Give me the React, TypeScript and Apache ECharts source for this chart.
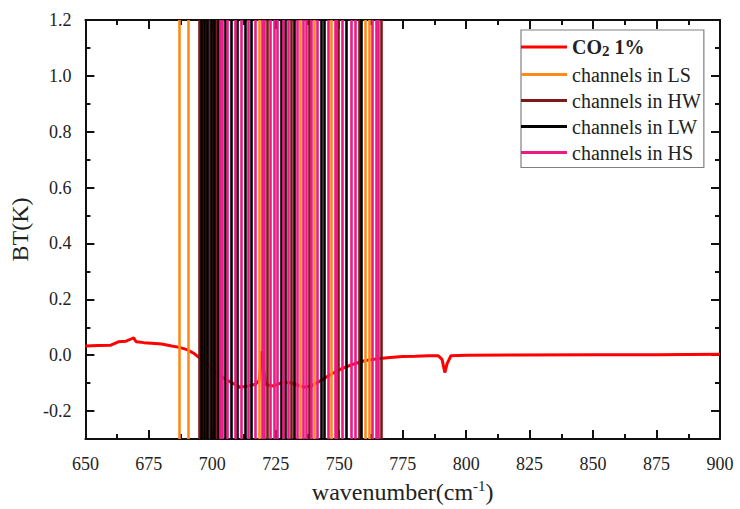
import React, { useEffect, useRef } from "react";
import * as echarts from "echarts";

// CO2 1% brightness-temperature difference (wavenumber, K)
const co2Wavenumber = [
  650, 655, 660, 663, 666, 668, 669, 670, 673, 676, 680, 684, 687, 690, 693, 696, 699, 702, 705, 708,
  711, 714, 717, 718.5, 719.5, 720.2, 721, 724, 727, 730, 733, 736, 739, 742, 745, 748, 751, 754, 757,
  760, 763, 766, 770, 775, 780, 785, 789, 790.5, 791.6, 792.5, 794, 800, 820, 850, 875, 900,
];
const co2Values = [
  0.033, 0.035, 0.036, 0.048, 0.05, 0.058, 0.062, 0.048, 0.045, 0.043, 0.04, 0.033, 0.028, 0.02, 0.005,
  -0.018, -0.04, -0.065, -0.085, -0.1, -0.115, -0.11, -0.104, -0.09, 0.015, -0.05, -0.105, -0.11, -0.1,
  -0.097, -0.105, -0.115, -0.11, -0.095, -0.078, -0.062, -0.048, -0.037, -0.028, -0.02, -0.015, -0.012,
  -0.008, -0.005, -0.004, -0.002, -0.002, -0.015, -0.062, -0.03, -0.002, 0.0, 0.001, 0.002, 0.002, 0.003,
];

// channel positions (wavenumber) per group
const channelsLS = [687.0, 690.7, 718.5, 734.6, 740.0, 746.8, 760.2, 761.8];
const channelsHW = [695.0, 696.2, 697.6, 698.8, 700.2, 701.6, 721.8, 731.0, 738.0, 749.5, 757.8, 766.4];
const channelsLW = [
  695.6, 696.9, 698.2, 699.5, 700.9, 702.4, 705.0, 707.6, 710.0, 713.0, 715.5, 727.0, 728.6, 732.2,
  743.0, 744.2, 752.7, 758.6,
];
const channelsHS = [
  703.2, 703.9, 706.0, 709.0, 711.5, 714.2, 717.0, 719.8, 720.6, 723.0, 724.5, 725.6, 727.8, 729.8,
  733.4, 736.0, 737.0, 739.0, 741.5, 745.5, 748.4, 749.0, 751.0, 754.8, 756.5, 763.0, 764.5, 765.5,
];

const yMajor = [-0.2, 0.0, 0.2, 0.4, 0.6, 0.8, 1.0, 1.2];
const yMinor = [-0.3, -0.1, 0.1, 0.3, 0.5, 0.7, 0.9, 1.1];

const FONT = '"Liberation Serif", "Times New Roman", serif';
const AX = "#111";

function channelSeries(name: string, color: string, values: number[]) {
  return {
    name,
    type: "line",
    color,
    symbol: "none",
    data: [],
    z: 3,
    lineStyle: { color, width: 3 },
    markLine: {
      silent: true,
      symbol: ["none", "none"],
      label: { show: false },
      lineStyle: { color, width: 2.6, type: "solid" },
      data: values.map((v) => ({ xAxis: v })),
    },
  };
}

export default function App() {
  const ref = useRef<HTMLDivElement>(null);
  useEffect(() => {
    if (!ref.current) return;
    const chart = echarts.init(ref.current, null, { renderer: "svg" });
    const axisLine = { show: true, onZero: false, lineStyle: { color: AX, width: 2 } };
    const yAxisBase = (position: string, ticks: number[], len: number, labels: boolean) => ({
      type: "value",
      min: -0.3,
      max: 1.2,
      position,
      axisLine: labels ? axisLine : { show: false },
      axisTick: { show: true, inside: true, length: len, customValues: ticks, lineStyle: { color: AX, width: 2 } },
      axisLabel: labels && position === "left"
        ? {
            show: true,
            customValues: yMajor,
            formatter: (v: number) => v.toFixed(1),
            fontFamily: FONT,
            fontSize: 18,
            color: "#222",
            margin: 14,
          }
        : { show: false },
      splitLine: { show: false },
      ...(labels && position === "left"
        ? {
            name: "BT(K)",
            nameLocation: "middle",
            nameGap: 40,
            nameTextStyle: { fontFamily: FONT, fontSize: 24, color: "#222" },
          }
        : {}),
    });
    const xAxisBase = (position: string, labels: boolean) => ({
      type: "value",
      min: 650,
      max: 900,
      interval: 25,
      position,
      axisLine,
      axisTick: { show: true, inside: true, length: 9, lineStyle: { color: AX, width: 2 } },
      minorTick: { show: true, splitNumber: 2, length: 5, lineStyle: { color: AX, width: 2 } },
      axisLabel: labels
        ? { show: true, fontFamily: FONT, fontSize: 18, color: "#222", margin: 16 }
        : { show: false },
      splitLine: { show: false },
      minorSplitLine: { show: false },
      ...(labels
        ? {
            name: "{a|wavenumber(cm}{s|-1}{a|)}",
            nameLocation: "middle",
            nameGap: 39,
            nameTextStyle: {
              rich: {
                a: { fontFamily: FONT, fontSize: 24, color: "#222", lineHeight: 28 },
                s: { fontFamily: FONT, fontSize: 15, color: "#222", verticalAlign: "top", lineHeight: 12 },
              },
            },
          }
        : {}),
    });
    const legendNames = ["CO2 1%", "channels in LS", "channels in HW", "channels in LW", "channels in HS"];
    chart.setOption({
      animation: false,
      backgroundColor: "#fff",
      grid: { left: 82, right: 20, top: 20, bottom: 65, containLabel: false },
      xAxis: [xAxisBase("bottom", true), xAxisBase("top", false)],
      yAxis: [
        yAxisBase("left", yMajor, 9, true),
        yAxisBase("left", yMinor, 5, false),
        yAxisBase("right", yMajor, 9, true),
        yAxisBase("right", yMinor, 5, false),
      ],
      legend: {
        orient: "vertical",
        left: 521,
        top: 30,
        itemWidth: 46,
        itemHeight: 3,
        itemGap: 6,
        itemTextGap: 4,
        padding: [7, 3, 5, 0],
        borderColor: "#808080",
        borderWidth: 1.2,
        textStyle: {
          fontFamily: FONT,
          fontSize: 20,
          color: "#222",
          lineHeight: 20,
          rich: {
            b: { fontFamily: FONT, fontSize: 20, fontWeight: "bold", color: "#222" },
            s: { fontFamily: FONT, fontSize: 15, fontWeight: "bold", color: "#222", padding: [8, 0, 0, 0] },
          },
        },
        formatter: (name: string) => (name === "CO2 1%" ? "{b|CO}{s|2}{b| 1%}" : name),
        data: legendNames.map((n) => ({ name: n, icon: "rect" })),
      },
      series: [
        {
          name: "CO2 1%",
          type: "line",
          color: "#ff0000",
          xAxisIndex: 0,
          yAxisIndex: 0,
          z: 2,
          symbol: "none",
          lineStyle: { color: "#ff0000", width: 3 },
          data: co2Wavenumber.map((w, i) => [w, co2Values[i]]),
        },
        channelSeries("channels in LS", "#FF8A1C", channelsLS),
        channelSeries("channels in HW", "#7F1818", channelsHW),
        channelSeries("channels in LW", "#000000", channelsLW),
        channelSeries("channels in HS", "#EC1A86", channelsHS),
      ],
    } as any);
    return () => chart.dispose();
  }, []);
  return (
    <div
      ref={ref}
      style={{ position: "fixed", left: 0, top: 0, width: 740, height: 509, background: "#fff" }}
    />
  );
}
